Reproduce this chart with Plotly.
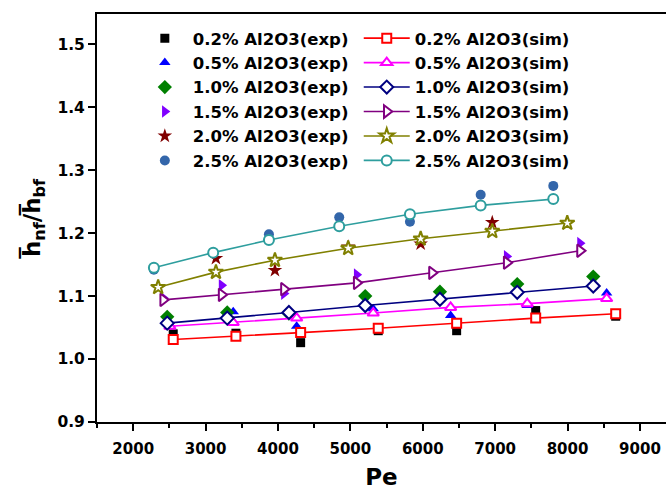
import plotly.graph_objects as go

# ---- data ----
pe_02 = [2553, 3419, 4313, 5385, 6468, 7560, 8665]
h_02_exp = [1.040, 1.041, 1.026, 1.045, 1.045, 1.077, 1.068]
h_02_sim = [1.031, 1.036, 1.042, 1.049, 1.057, 1.065, 1.072]

pe_05 = [2507, 3382, 4258, 5316, 6385, 7443, 8540]
h_05_exp = [1.055, 1.075, 1.052, 1.080, 1.069, 1.085, 1.105]
h_05_sim = [1.052, 1.058, 1.065, 1.073, 1.082, 1.088, 1.096]

pe_10 = [2470, 3299, 4151, 5205, 6237, 7305, 8355]
h_10_exp = [1.067, 1.074, 1.072, 1.100, 1.107, 1.119, 1.131]
h_10_sim = [1.057, 1.065, 1.074, 1.085, 1.095, 1.106, 1.116]

pe_15 = [2414, 3221, 4082, 5087, 6127, 7159, 8172]
h_15_exp = [1.097, 1.117, 1.104, 1.134, 1.137, 1.163, 1.184]
h_15_sim = [1.094, 1.102, 1.111, 1.121, 1.137, 1.153, 1.172]

pe_20 = [2345, 3143, 3958, 4970, 5971, 6960, 7996]
h_20_exp = [1.114, 1.160, 1.141, 1.178, 1.183, 1.217, 1.216]
h_20_sim = [1.114, 1.138, 1.157, 1.176, 1.191, 1.203, 1.216]

pe_25 = [2286, 3105, 3875, 4846, 5823, 6800, 7803]
h_25_exp = [1.142, 1.168, 1.198, 1.225, 1.218, 1.261, 1.275]
h_25_sim = [1.145, 1.169, 1.189, 1.211, 1.230, 1.244, 1.254]

labels = ["0.2%", "0.5%", "1.0%", "1.5%", "2.0%", "2.5%"]
x_ticks = [2000, 3000, 4000, 5000, 6000, 7000, 8000, 9000]
y_ticks = [0.9, 1.0, 1.1, 1.2, 1.3, 1.4, 1.5]

series = [
    (pe_02, h_02_exp, h_02_sim),
    (pe_05, h_05_exp, h_05_sim),
    (pe_10, h_10_exp, h_10_sim),
    (pe_15, h_15_exp, h_15_sim),
    (pe_20, h_20_exp, h_20_sim),
    (pe_25, h_25_exp, h_25_sim),
]

exp_style = [
    ("square", "#000000", 9),
    ("triangle-up", "#0000ff", 10),
    ("diamond", "#008000", 11),
    ("triangle-right", "#8000ff", 11),
    ("star", "#800000", 11),
    ("circle", "#3366aa", 10),
]
sim_style = [
    ("square", "#ff0000", 9),
    ("triangle-up", "#ff00ff", 10),
    ("diamond", "#000080", 10),
    ("triangle-right", "#800080", 11),
    ("star", "#808000", 11),
    ("circle", "#2e9e9e", 10),
]

FONT = "DejaVu Sans"
fig = go.Figure()

for (pe, he, hs), lab, (sym, col, sz) in zip(series, labels, exp_style):
    fig.add_trace(go.Scatter(
        x=pe, y=he, mode="markers", name=f"{lab} Al2O3(exp)",
        marker=dict(symbol=sym, color=col, size=sz, line=dict(width=0)),
        legend="legend",
    ))

for (pe, he, hs), lab, (sym, col, sz) in zip(series, labels, sim_style):
    fig.add_trace(go.Scatter(
        x=pe, y=hs, mode="lines+markers", name=f"{lab} Al2O3(sim)",
        line=dict(color=col, width=1.6),
        marker=dict(symbol=sym, color="white", size=sz, line=dict(color=col, width=2)),
        legend="legend2",
    ))

legend_font = dict(family=FONT, size=16.5, weight="bold", color="black")

fig.update_layout(
    width=666, height=493,
    margin=dict(l=97, r=0, t=14, b=71),
    plot_bgcolor="white", paper_bgcolor="white",
    font=dict(family=FONT, color="black"),
    legend=dict(x=0.07, y=0.983, xanchor="left", yanchor="top",
                font=legend_font, bgcolor="rgba(0,0,0,0)", tracegroupgap=0,
                itemwidth=46),
    legend2=dict(x=0.46, y=0.983, xanchor="left", yanchor="top",
                 font=legend_font, bgcolor="rgba(0,0,0,0)", tracegroupgap=0,
                 itemwidth=46),
    xaxis=dict(
        range=[1500, 9360], tickvals=x_ticks, ticktext=[str(v) for v in x_ticks],
        showgrid=False, zeroline=False, showline=True, linecolor="black", linewidth=2,
        mirror=True, ticks="outside", ticklen=7, tickwidth=2, tickcolor="black",
        ticklabelstandoff=5,
        tickfont=dict(family=FONT, size=15, weight="bold"),
        minor=dict(ticks="outside", ticklen=4, tickwidth=2, tickcolor="black",
                   dtick=500, tick0=1500, showgrid=False),
        title=dict(text="Pe", font=dict(family=FONT, size=23, weight="bold"), standoff=12),
    ),
    yaxis=dict(
        range=[0.9, 1.548], tickvals=y_ticks, ticktext=[f"{v:.1f}" for v in y_ticks],
        showgrid=False, zeroline=False, showline=True, linecolor="black", linewidth=2,
        mirror=False, ticks="outside", ticklen=7, tickwidth=2, tickcolor="black",
        tickfont=dict(family=FONT, size=15.5, weight="bold"),
        title=dict(text="h\u0305<sub>nf</sub>/h\u0305<sub>bf</sub>",
                   font=dict(family=FONT, size=23, weight="bold"), standoff=10),
    ),
)

fig.write_html("out.html")
